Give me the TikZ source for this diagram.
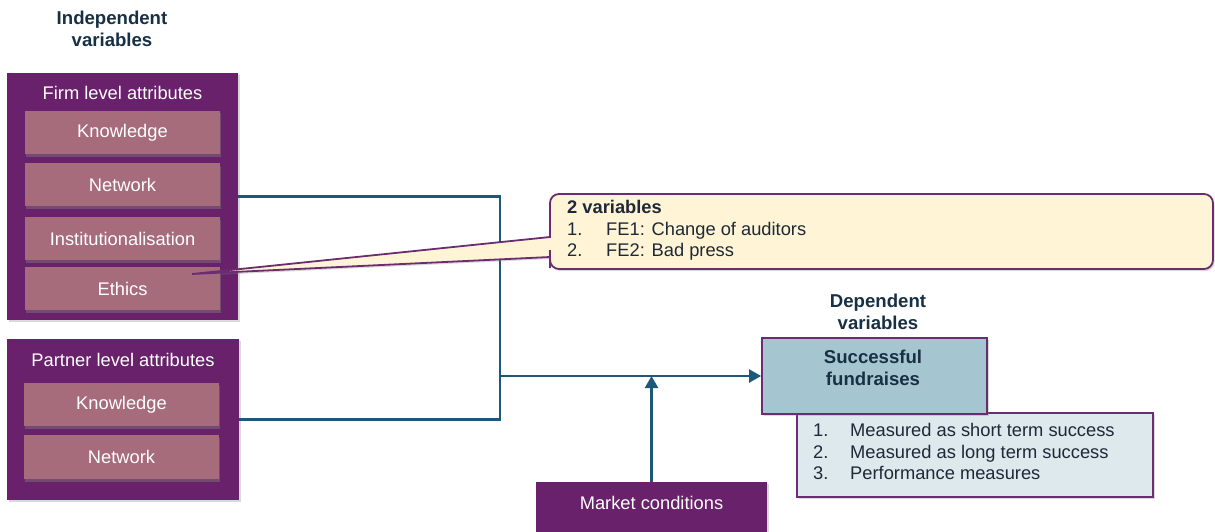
\documentclass[tikz,border=0pt]{standalone}
\usepackage{fontspec}
\setmainfont{Liberation Sans}
\usetikzlibrary{arrows.meta,shadows,calc}

\definecolor{plum}{RGB}{104,33,106}
\definecolor{mauve}{RGB}{166,108,124}
\definecolor{steel}{RGB}{30,88,120}
\definecolor{navy}{RGB}{24,48,68}
\definecolor{ink}{RGB}{30,40,55}
\definecolor{cream}{RGB}{255,245,214}
\definecolor{aqua}{RGB}{165,198,208}
\definecolor{pale}{RGB}{221,233,237}
\definecolor{rim}{RGB}{108,44,112}

\begin{document}
\begin{tikzpicture}[x=1pt,y=-1pt,
  every node/.style={font=\fontsize{18.3}{21.5}\selectfont},
  group/.style={fill=plum, inner sep=0pt, minimum width=231pt,
    drop shadow={shadow xshift=1.5pt,shadow yshift=-2pt,opacity=0.3}},
  grouptitle/.style={text=white, inner sep=0pt},
  attr/.style={fill=mauve, text=white, inner sep=0pt,
    minimum width=195pt, minimum height=43pt,
    drop shadow={shadow xshift=1pt,shadow yshift=-2.5pt,opacity=0.45}},
  heading/.style={font=\fontsize{18.6}{22}\selectfont\bfseries, text=navy, align=center, inner sep=0pt},
  conn/.style={draw=steel, line width=2.3pt},
  arr/.style={conn, -{Triangle[length=12pt,width=13pt]}},
  outcome/.style={fill=aqua, draw=rim, line width=1.8pt, inner sep=0pt,
    drop shadow={shadow xshift=1.5pt,shadow yshift=-2pt,opacity=0.3}},
  listbox/.style={fill=pale, draw=rim, line width=1.8pt, inner sep=0pt,
    drop shadow={shadow xshift=1.5pt,shadow yshift=-2pt,opacity=0.3}},
  callout/.style={fill=cream, draw=rim, line width=1.8pt,
    drop shadow={shadow xshift=1.5pt,shadow yshift=-2pt,opacity=0.3}},
  listtext/.style={text=ink, inner sep=0pt, anchor=west}
]
\useasboundingbox (0,0) rectangle (1215,532);

% headings
\node[heading] (indep) at (112,29) {Independent\\variables};
\node[heading] (dep) at (878,312) {Dependent\\variables};

% firm level group
\node[group, minimum height=247pt] (firm) at (122.5,196.5) {};
\node[grouptitle] (firmtitle) at (122.5,93) {Firm level attributes};
\node[attr] (fknow) at (122.5,132.5) {Knowledge};
\node[attr] (fnet)  at (122.5,184.5) {Network};
\node[attr] (finst) at (122.5,238.5) {Institutionalisation};
\node[attr] (feth)  at (122.5,288.5) {Ethics};

% partner level group
\node[group, minimum width=232pt, minimum height=161pt] (partner) at (123,419.5) {};
\node[grouptitle] (partnertitle) at (123,360) {Partner level attributes};
\node[attr] (pknow) at (121.5,404.5) {Knowledge};
\node[attr, minimum height=44pt] (pnet) at (121.5,457) {Network};

% outcome side
\node[listbox, minimum width=356pt, minimum height=84pt] (measures) at (975,455) {};
\node[listtext] (measurelist) at (813,454) {%
  \begin{tabular}{@{}p{37pt}@{}l@{}}
  1. & Measured as short term success\\
  2. & Measured as long term success\\
  3. & Performance measures
  \end{tabular}};
\node[outcome, minimum width=225pt, minimum height=76pt] (succ) at (874.5,376) {};
\node[heading, text=navy] (succtext) at (873,368) {Successful\\fundraises};

% moderator
\node[fill=plum, text=white, inner sep=0pt, minimum width=231pt, minimum height=50pt,
  drop shadow={shadow xshift=1.5pt,shadow yshift=-2pt,opacity=0.3}] (market) at (651.5,507) {};
\node[text=white, inner sep=0pt] (markettext) at (651.5,503) {Market conditions};

% connectors
\coordinate (junc) at (500,376);
\draw[conn] (firm.east) -| (junc) |- (partner.east);
\draw[arr] (junc) -- (junc -| succ.west);
\draw[arr] (market.north) -- (market.north |- junc);

% callout attached to the ethics item
\coordinate (tip) at (192,274);
\draw[callout] (880,194) [rounded corners=9pt] -- (1213,194) -- (1213,269)
  -- (550,269) -- (550,259) [sharp corners] -- (550,257) -- (tip)
  -- (550,237) -- (550,232) [rounded corners=9pt] -- (550,194) -- cycle;
\node[listtext] (calloutlist) at (567,231) {%
  \begin{tabular}{@{}p{39pt}@{}l@{}}
  \multicolumn{2}{@{}l@{}}{\bfseries 2 variables}\\
  1. & FE1: Change of auditors\\
  2. & FE2: Bad press
  \end{tabular}};
\end{tikzpicture}
\end{document}
